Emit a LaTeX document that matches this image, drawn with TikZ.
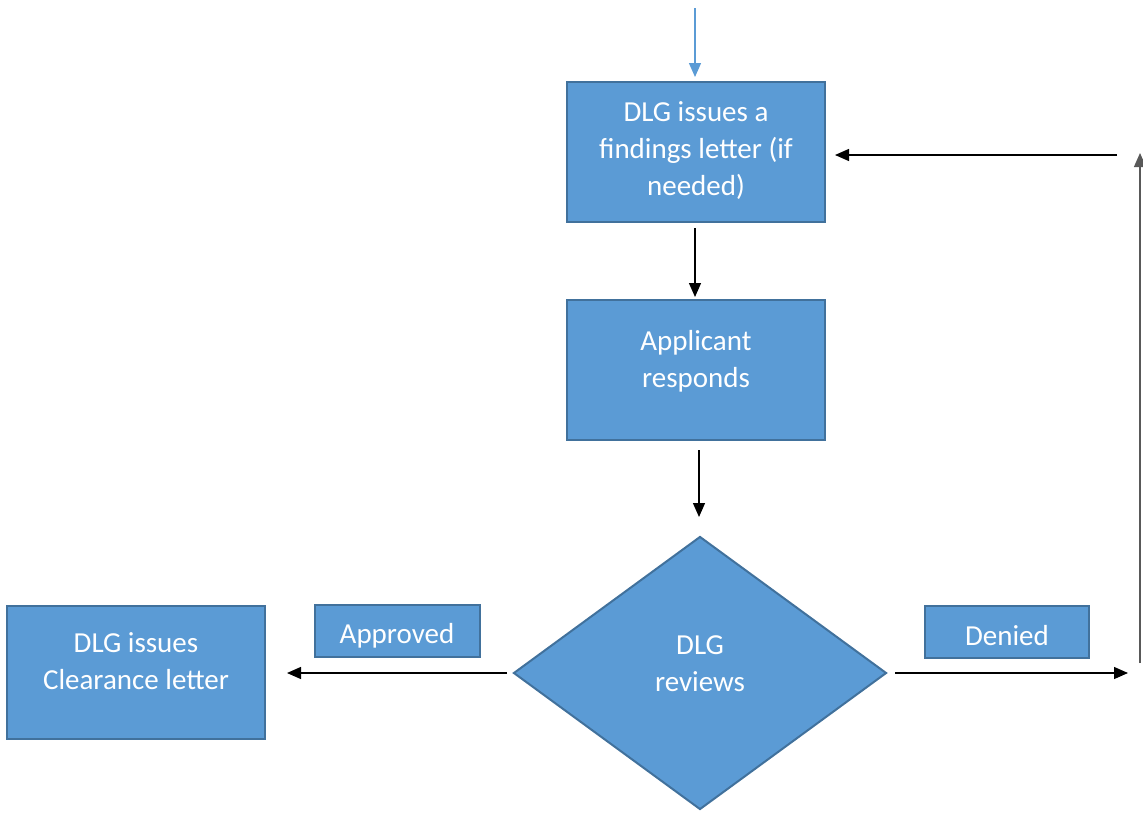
\documentclass[tikz,border=0pt]{standalone}
\usepackage{fontspec}
\setmainfont{Carlito}
\usetikzlibrary{shapes.geometric,arrows.meta,calc}
\definecolor{boxfill}{HTML}{5B9BD5}
\definecolor{boxline}{HTML}{41719C}
\newcommand{\liftedtext}[2]{\raisebox{#1}[\height][\depth]{\begin{tabular}{@{}c@{}}#2\end{tabular}}}
\begin{document}
\begin{tikzpicture}[x=1pt,y=-1pt,
  box/.style={draw=boxline,line width=2pt,fill=boxfill,text=white,align=center,
    inner sep=0pt,font=\fontsize{29}{37}\selectfont},
  arr/.style={-{Triangle[length=14pt,width=12pt]},line width=1.3pt,black},
  bluearr/.style={-{Triangle[length=14pt,width=12pt]},line width=1.3pt,boxfill}]
\useasboundingbox (0,0) rectangle (1143,814);
\node[box,minimum width=258,minimum height=140] (b1) at (696,152) {\liftedtext{1pt}{DLG issues a\\findings letter (if\\needed)}};
\node[box,minimum width=258,minimum height=140] (b2) at (696,370) {\liftedtext{8pt}{Applicant\\responds}};
\node[box,minimum width=373,minimum height=273,shape=diamond,aspect=1.366] (d) at (700,673) {\liftedtext{7pt}{DLG\\reviews}};
\node[box,minimum width=258,minimum height=133] (cl) at (136,672) {\liftedtext{8pt}{DLG issues\\Clearance letter}};
\node[box,minimum width=165,minimum height=52] (ap) at (397,631) {\liftedtext{-5pt}{Approved}};
\node[box,minimum width=164,minimum height=52] (dn) at (1007,632) {\liftedtext{-6pt}{Denied}};
\coordinate (top) at (695,8);
\coordinate (t1) at (695,77);
\coordinate (s1) at (695,228);
\coordinate (e1) at (695,297);
\coordinate (s2) at (699,450);
\coordinate (e2) at (699,517);
\coordinate (ls) at (507,673);
\coordinate (le) at (287,673);
\coordinate (rs) at (895,673);
\coordinate (re) at (1128,673);
\coordinate (vs) at (1140,663);
\coordinate (ve) at (1140,153);
\coordinate (hs) at (1117,155);
\coordinate (he) at (835,155);
\draw[bluearr] (top) -- (t1);
\draw[arr] (s1) -- (e1);
\draw[arr] (s2) -- (e2);
\draw[arr] (ls) -- (le);
\draw[arr] (rs) -- (re);
\draw[arr,draw=gray!70!black] (vs) -- (ve);
\draw[arr] (hs) -- (he);
\end{tikzpicture}
\end{document}
